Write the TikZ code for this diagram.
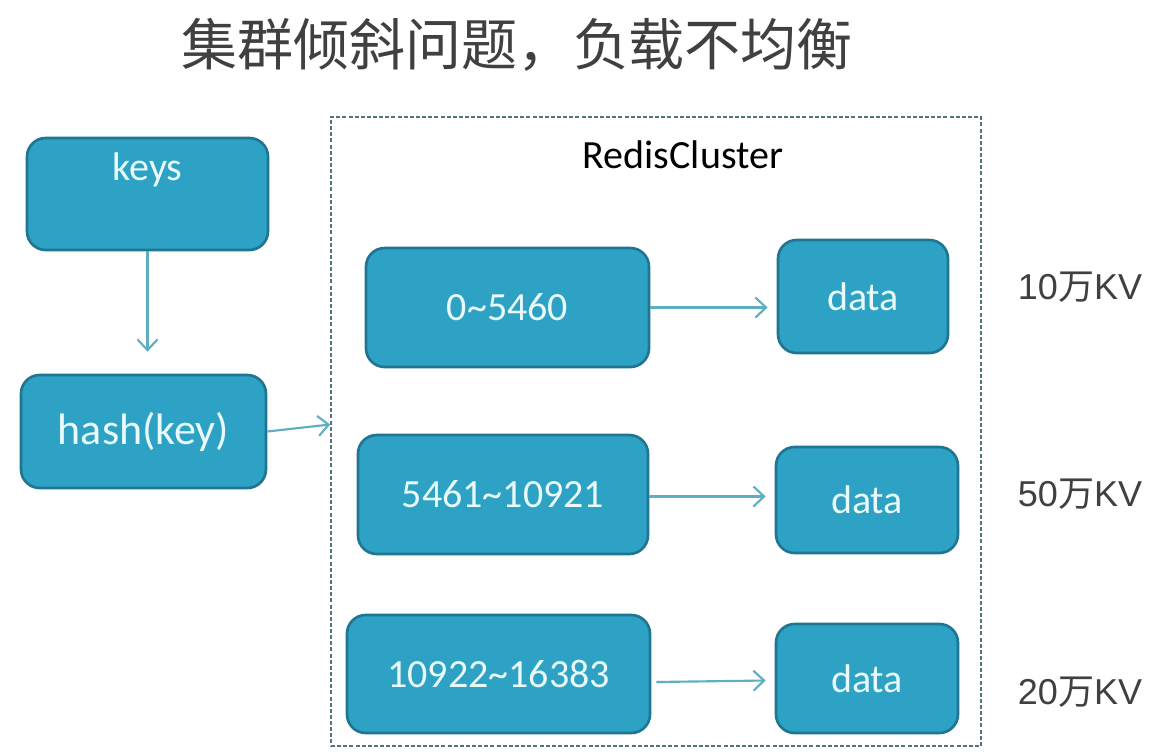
\documentclass[tikz,border=0pt]{standalone}
\usepackage{fontspec}
\setmainfont{Carlito}
\newfontfamily\cjk{Noto Sans CJK SC}
\newfontfamily\arial{Liberation Sans}
\usetikzlibrary{arrows.meta,calc}
\definecolor{boxfill}{RGB}{45,162,197}
\definecolor{boxline}{RGB}{32,118,146}
\definecolor{boxtxt}{RGB}{232,250,250}
\definecolor{arrowc}{RGB}{95,175,195}
\definecolor{dashc}{RGB}{85,115,125}
\definecolor{titlec}{RGB}{64,64,64}
\tikzset{
  box/.style={draw=boxline, fill=boxfill, line width=2pt, rounded corners=14pt, inner sep=0pt},
  boxtext/.style={text=boxtxt, font=\fontsize{30}{34}\selectfont, inner sep=0pt},
  conn/.style={draw=arrowc, line width=1.6pt, -{Straight Barb[length=8pt,width=15pt,line width=1.6pt]}},
  cluster/.style={draw=dashc, line width=1.2pt, dash pattern=on 3pt off 1.6pt, inner sep=0pt},
  kvlabel/.style={text=titlec, font=\arial\fontsize{27}{30}\selectfont, inner sep=0pt}
}
\begin{document}
\begin{tikzpicture}[x=0.75pt,y=-0.75pt]
\useasboundingbox[fill=white] (0,0) rectangle (1165,754);
% title
\node[text=titlec, font=\cjk\fontsize{42}{46}\selectfont, inner sep=0pt] (title) at (517,45) {集群倾斜问题，负载不均衡};
% cluster frame
\node[cluster, minimum width=487.5pt, minimum height=471.75pt] (cluster) at (656,431.5) {};
\node[font=\fontsize{30}{33}\selectfont, inner sep=0pt] (rc) at (683,155) {RedisCluster};
% left boxes
\node[box, minimum width=180.75pt, minimum height=84pt] (keys) at (147.5,194) {};
\node[boxtext] (keyst) at (147.5,170) {keys};
\node[box, minimum width=183.75pt, minimum height=84.75pt, boxtext, font=\fontsize{33}{36}\selectfont] (hash) at (143.5,431.5) {hash(key)};
% slot boxes
\node[box, boxtext, minimum width=212.25pt, minimum height=89.25pt] (b1) at (507.5,307.5) {0\textasciitilde 5460};
\node[box, boxtext, minimum width=217.5pt, minimum height=89.25pt] (b2) at (503,494.5) {5461\textasciitilde 10921};
\node[box, boxtext, minimum width=227.25pt, minimum height=88.5pt] (b3) at (498.5,674) {10922\textasciitilde 16383};
% data boxes
\node[box, boxtext, minimum width=127.5pt, minimum height=84.75pt] (d1) at (863,296.5) {data};
\node[box, boxtext, minimum width=136.5pt, minimum height=79.5pt] (d2) at (867,500) {data};
\node[box, boxtext, minimum width=136.5pt, minimum height=81.75pt] (d3) at (867,678.5) {data};
% labels
\node[kvlabel] (l1) at (1080,287) {10{\cjk 万}KV};
\node[kvlabel] (l2) at (1080,494) {50{\cjk 万}KV};
\node[kvlabel] (l3) at (1080,692) {20{\cjk 万}KV};
% connectors
\draw[conn] (keys.south) -- ($(hash.north)+(4,-22)$);
\draw[conn] (hash.east) -- ($(cluster.west)+(0,-7)$);
\draw[conn] (b1.east) -- ($(b1.east -| d1.west)+(-9,0)$);
\draw[conn] ($(b2.east)+(0,2)$) -- ($(b2.east -| d2.west)+(-9,2)$);
\draw[conn] ($(b3.east)+(5,8)$) -- ($(d3.west)+(-9,2)$);
\end{tikzpicture}
\end{document}
